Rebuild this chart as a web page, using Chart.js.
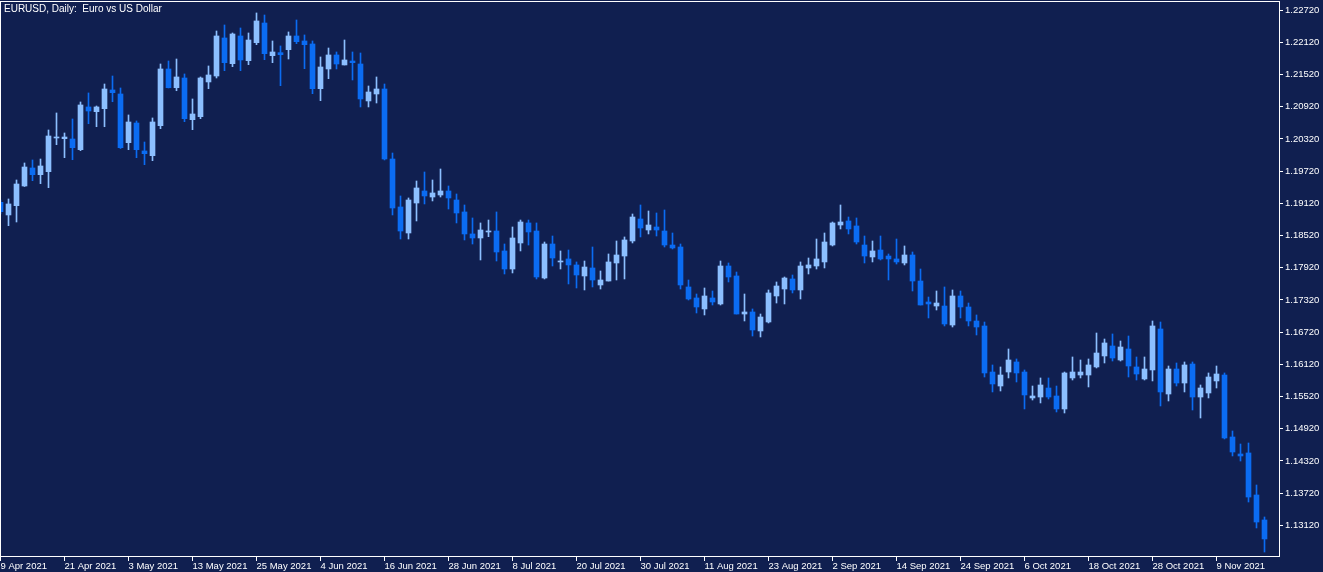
<!DOCTYPE html>
<html>
<head>
<meta charset="utf-8">
<title>EURUSD, Daily</title>
<script src="https://cdn.jsdelivr.net/npm/chart.js@4.4.1/dist/chart.umd.min.js"></script>
<style>
  html, body { margin: 0; padding: 0; background: #101f50; }
  #wrap { width: 1323px; height: 572px; position: relative; }
</style>
</head>
<body>
<div id="wrap"><canvas id="chart"></canvas></div>
<script>
// daily bars, 9 Apr 2021 .. 17 Nov 2021 (weekdays)
const open = [
  1.19140, 1.18904, 1.19077, 1.19444, 1.19780, 1.19655, 1.19711, 1.20339, 1.20326, 1.20320,
  1.20121, 1.20917, 1.20829, 1.20885, 1.21234, 1.21159, 1.20251, 1.20618, 1.20097, 1.20009,
  1.20568, 1.21625, 1.21276, 1.21457, 1.20680, 1.20736, 1.21383, 1.21494, 1.22203, 1.21724,
  1.22240, 1.21780, 1.22115, 1.22482, 1.21873, 1.21929, 1.21985, 1.22240, 1.22147, 1.22091,
  1.21258, 1.21625, 1.21886, 1.21700, 1.21774, 1.21718, 1.21029, 1.21159, 1.21252, 1.19947,
  1.19053, 1.18568, 1.19127, 1.19351, 1.19239, 1.19276, 1.19351, 1.19183, 1.18960, 1.18550,
  1.18475, 1.18587, 1.18605, 1.18233, 1.17897, 1.18382, 1.18755, 1.18605, 1.17729, 1.18363,
  1.18028, 1.18084, 1.17972, 1.17767, 1.17916, 1.17599, 1.17673, 1.18009, 1.18139, 1.18419,
  1.18829, 1.18624, 1.18680, 1.18605, 1.18344, 1.18307, 1.17562, 1.17357, 1.17152, 1.17357,
  1.17245, 1.17953, 1.17767, 1.17058, 1.17096, 1.16742, 1.16909, 1.17394, 1.17524, 1.17711,
  1.17506, 1.17916, 1.17953, 1.18028, 1.18344, 1.18717, 1.18792, 1.18699, 1.18344, 1.18121,
  1.18251, 1.18139, 1.18084, 1.18009, 1.18158, 1.17673, 1.17282, 1.17207, 1.17207, 1.16853,
  1.17394, 1.17189, 1.16928, 1.16835, 1.15977, 1.15716, 1.15977, 1.16164, 1.15977, 1.15493,
  1.15511, 1.15679, 1.15530, 1.15288, 1.15866, 1.15921, 1.15921, 1.16071, 1.16276, 1.16462,
  1.16201, 1.16406, 1.16071, 1.15847, 1.16015, 1.16779, 1.15567, 1.16033, 1.15772, 1.16126,
  1.15511, 1.15586, 1.15810, 1.15921, 1.14766, 1.14449, 1.14468, 1.13685, 1.13219
];
const high = [
  1.19183, 1.19202, 1.19556, 1.19873, 1.19929, 1.19947, 1.20488, 1.20805, 1.20432, 1.20693,
  1.21010, 1.21178, 1.20935, 1.21345, 1.21494, 1.21271, 1.20768, 1.20656, 1.20264, 1.20712,
  1.21718, 1.21774, 1.21811, 1.21532, 1.21066, 1.21476, 1.21681, 1.22333, 1.22445, 1.22296,
  1.22389, 1.22296, 1.22669, 1.22631, 1.22147, 1.22054, 1.22315, 1.22538, 1.22259, 1.22147,
  1.21849, 1.22016, 1.21942, 1.22165, 1.21942, 1.21923, 1.21308, 1.21476, 1.21345, 1.20059,
  1.19258, 1.19221, 1.19537, 1.19705, 1.19556, 1.19761, 1.19444, 1.19295, 1.19090, 1.18848,
  1.18755, 1.18810, 1.18960, 1.18363, 1.18680, 1.18810, 1.18810, 1.18755, 1.18400, 1.18512,
  1.18233, 1.18251, 1.18028, 1.18046, 1.18307, 1.17860, 1.18177, 1.18419, 1.18494, 1.18922,
  1.19090, 1.18978, 1.18941, 1.18997, 1.18568, 1.18363, 1.17692, 1.17431, 1.17543, 1.17487,
  1.18046, 1.18009, 1.17841, 1.17431, 1.17152, 1.17058, 1.17506, 1.17655, 1.17748, 1.17785,
  1.18028, 1.18102, 1.18456, 1.18568, 1.18773, 1.19090, 1.18866, 1.18848, 1.18512, 1.18419,
  1.18512, 1.18177, 1.18456, 1.18326, 1.18214, 1.17897, 1.17375, 1.17487, 1.17562, 1.17506,
  1.17487, 1.17263, 1.17040, 1.16909, 1.16108, 1.16071, 1.16406, 1.16220, 1.16015, 1.15716,
  1.15866, 1.15866, 1.15716, 1.15977, 1.16257, 1.16201, 1.16220, 1.16704, 1.16592, 1.16686,
  1.16555, 1.16648, 1.16257, 1.16257, 1.16928, 1.16909, 1.16089, 1.16145, 1.16164, 1.16164,
  1.15735, 1.15959, 1.16089, 1.15959, 1.14878, 1.14635, 1.14654, 1.13871, 1.13275
];
const low = [
  1.18922, 1.18704, 1.18773, 1.19435, 1.19543, 1.19487, 1.19413, 1.20214, 1.19972, 1.19934,
  1.20102, 1.20605, 1.20549, 1.20549, 1.21015, 1.20143, 1.20121, 1.19972, 1.19841, 1.19916,
  1.20512, 1.21271, 1.21220, 1.20643, 1.20494, 1.20699, 1.21258, 1.21457, 1.21593, 1.21668,
  1.21593, 1.21705, 1.22078, 1.21798, 1.21742, 1.21314, 1.21811, 1.22097, 1.21631, 1.21165,
  1.21034, 1.21444, 1.21625, 1.21700, 1.21420, 1.20917, 1.20917, 1.20991, 1.19929, 1.18904,
  1.18456, 1.18456, 1.18792, 1.19109, 1.19165, 1.19239, 1.19015, 1.18755, 1.18438, 1.18363,
  1.18065, 1.18499, 1.18046, 1.17804, 1.17823, 1.18233, 1.18344, 1.17711, 1.17711, 1.17953,
  1.17897, 1.17618, 1.17543, 1.17506, 1.17562, 1.17524, 1.17673, 1.17692, 1.17711, 1.18382,
  1.18494, 1.18550, 1.18512, 1.18307, 1.18270, 1.17524, 1.17319, 1.17077, 1.17040, 1.17226,
  1.17226, 1.17655, 1.17058, 1.16928, 1.16648, 1.16630, 1.16891, 1.17263, 1.17245, 1.17450,
  1.17338, 1.17804, 1.17897, 1.17916, 1.18326, 1.18643, 1.18550, 1.18363, 1.18009, 1.18028,
  1.18065, 1.17692, 1.17990, 1.17972, 1.17487, 1.17226, 1.16984, 1.17133, 1.16835, 1.16816,
  1.16984, 1.16835, 1.16667, 1.15884, 1.15605, 1.15623, 1.15866, 1.15791, 1.15288, 1.15455,
  1.15400, 1.15474, 1.15232, 1.15213, 1.15828, 1.15866, 1.15698, 1.16052, 1.16145, 1.16182,
  1.16182, 1.15884, 1.15828, 1.15828, 1.15810, 1.15344, 1.15437, 1.15716, 1.15605, 1.15269,
  1.15120, 1.15493, 1.15679, 1.14729, 1.14412, 1.14318, 1.13554, 1.13070, 1.12622
];
const close = [
  1.18965, 1.19109, 1.19481, 1.19798, 1.19655, 1.19817, 1.20376, 1.20357, 1.20357, 1.20158,
  1.20954, 1.20842, 1.20917, 1.21252, 1.21183, 1.20158, 1.20637, 1.20121, 1.20046, 1.20637,
  1.21625, 1.21276, 1.21476, 1.20699, 1.20786, 1.21457, 1.21513, 1.22240, 1.21742, 1.22277,
  1.21793, 1.22165, 1.22520, 1.21910, 1.21942, 1.21891, 1.22240, 1.22134, 1.22078, 1.21258,
  1.21662, 1.21886, 1.21718, 1.21793, 1.21742, 1.21066, 1.21196, 1.21252, 1.19947, 1.19034,
  1.18605, 1.19183, 1.19407, 1.19258, 1.19314, 1.19351, 1.19221, 1.18941, 1.18550, 1.18475,
  1.18624, 1.18600, 1.18214, 1.17897, 1.18475, 1.18773, 1.18587, 1.17748, 1.18363, 1.18102,
  1.18046, 1.17972, 1.17785, 1.17934, 1.17692, 1.17692, 1.18028, 1.18158, 1.18438, 1.18866,
  1.18661, 1.18717, 1.18624, 1.18344, 1.18289, 1.17599, 1.17338, 1.17189, 1.17394, 1.17282,
  1.17953, 1.17748, 1.17058, 1.17096, 1.16760, 1.17002, 1.17450, 1.17580, 1.17729, 1.17506,
  1.17953, 1.17972, 1.18084, 1.18400, 1.18755, 1.18773, 1.18643, 1.18400, 1.18139, 1.18233,
  1.18084, 1.18084, 1.18028, 1.18158, 1.17673, 1.17226, 1.17245, 1.17263, 1.16872, 1.17394,
  1.17189, 1.16928, 1.16816, 1.15959, 1.15754, 1.15921, 1.16201, 1.15959, 1.15549, 1.15530,
  1.15735, 1.15511, 1.15288, 1.15959, 1.15977, 1.15977, 1.16108, 1.16331, 1.16518, 1.16238,
  1.16443, 1.16089, 1.15940, 1.16033, 1.16835, 1.15605, 1.16033, 1.15772, 1.16108, 1.15511,
  1.15679, 1.15884, 1.15940, 1.14747, 1.14486, 1.14412, 1.13647, 1.13181, 1.12865
];

// x axis labels, one every 8 bars
const dateTicks = [
  '9 Apr 2021', '21 Apr 2021', '3 May 2021', '13 May 2021', '25 May 2021',
  '4 Jun 2021', '16 Jun 2021', '28 Jun 2021', '8 Jul 2021', '20 Jul 2021',
  '30 Jul 2021', '11 Aug 2021', '23 Aug 2021', '2 Sep 2021', '14 Sep 2021',
  '24 Sep 2021', '6 Oct 2021', '18 Oct 2021', '28 Oct 2021', '9 Nov 2021'
];
const priceTicks = [
  1.13120, 1.13720, 1.14320, 1.14920, 1.15520, 1.16120, 1.16720, 1.17320, 1.17920,
  1.18520, 1.19120, 1.19720, 1.20320, 1.20920, 1.21520, 1.22120, 1.22720
];

const bgColor = '#101f50';
const bullColor = '#8cbfff';
const bearColor = '#0b6cf2';
const fontFamily = '"Liberation Sans", Arial, sans-serif';

const candleColor = (ctx) => close[ctx.dataIndex] >= open[ctx.dataIndex] ? bullColor : bearColor;

const bodies = open.map((o, i) => ({ x: i, y: [o, close[i]] }));
const wicks = low.map((l, i) => ({ x: i, y: [l, high[i]] }));

// keep the plot box fixed: no extra room for half labels
const noPad = (scale) => {
    scale.paddingTop = 0;
    scale.paddingBottom = 0;
    scale.paddingLeft = 0;
    scale.paddingRight = 0;
};

const frame = {
    id: 'frame',
    beforeDraw(chart) {
        const c = chart.ctx;
        c.save();
        c.fillStyle = bgColor;
        c.fillRect(0, 0, chart.width, chart.height);
        c.restore();
    },
    afterDraw(chart) {
        const c = chart.ctx;
        const a = chart.chartArea;
        c.save();
        c.strokeStyle = '#ffffff';
        c.lineWidth = 1;
        c.strokeRect(a.left + 0.5, a.top + 0.5, a.right - a.left, a.bottom - a.top - 1);
        c.fillStyle = '#ffffff';
        c.font = '10px ' + fontFamily;
        c.textBaseline = 'alphabetic';
        c.fillText('EURUSD, Daily:  Euro vs US Dollar', 4, 12);
        c.restore();
    }
};

new Chart(document.getElementById('chart'), {
    type: 'bar',
    data: {
        datasets: [
            {
                label: 'body',
                data: bodies,
                backgroundColor: candleColor,
                barThickness: 5,
                minBarLength: 1,
                grouped: false,
                borderWidth: 0,
                order: 0
            },
            {
                label: 'wick',
                data: wicks,
                backgroundColor: candleColor,
                barThickness: 1,
                grouped: false,
                borderWidth: 0,
                order: 1
            }
        ]
    },
    options: {
        responsive: true,
        maintainAspectRatio: false,
        animation: false,
        layout: { padding: { top: 1, left: 0, right: 0, bottom: 0 } },
        plugins: {
            legend: { display: false },
            tooltip: { enabled: false }
        },
        scales: {
            x: {
                type: 'linear',
                min: -0.0625,
                max: 159.8125,
                offset: false,
                afterBuildTicks: (scale) => {
                    scale.ticks = dateTicks.map((d, i) => ({ value: i * 8 }));
                },
                afterFit: (scale) => { scale.height = 15; noPad(scale); },
                grid: {
                    offset: false,
                    drawOnChartArea: false,
                    drawTicks: true,
                    tickLength: 4,
                    color: '#ffffff'
                },
                border: { display: false },
                ticks: {
                    autoSkip: false,
                    maxRotation: 0,
                    align: 'start',
                    padding: 0,
                    color: '#ffffff',
                    font: { family: fontFamily, size: 9.5 },
                    callback: (value, index) => dateTicks[index]
                }
            },
            y: {
                position: 'right',
                min: 1.12529,
                max: 1.22892,
                afterBuildTicks: (scale) => {
                    scale.ticks = priceTicks.map(v => ({ value: v }));
                },
                afterFit: (scale) => { scale.width = 44; noPad(scale); },
                grid: {
                    drawOnChartArea: false,
                    drawTicks: true,
                    tickLength: 4,
                    color: '#ffffff'
                },
                border: { display: false },
                ticks: {
                    padding: 2,
                    color: '#ffffff',
                    font: { family: fontFamily, size: 9.5 },
                    callback: (value) => value.toFixed(5)
                }
            }
        }
    },
    plugins: [frame]
});
</script>
</body>
</html>
